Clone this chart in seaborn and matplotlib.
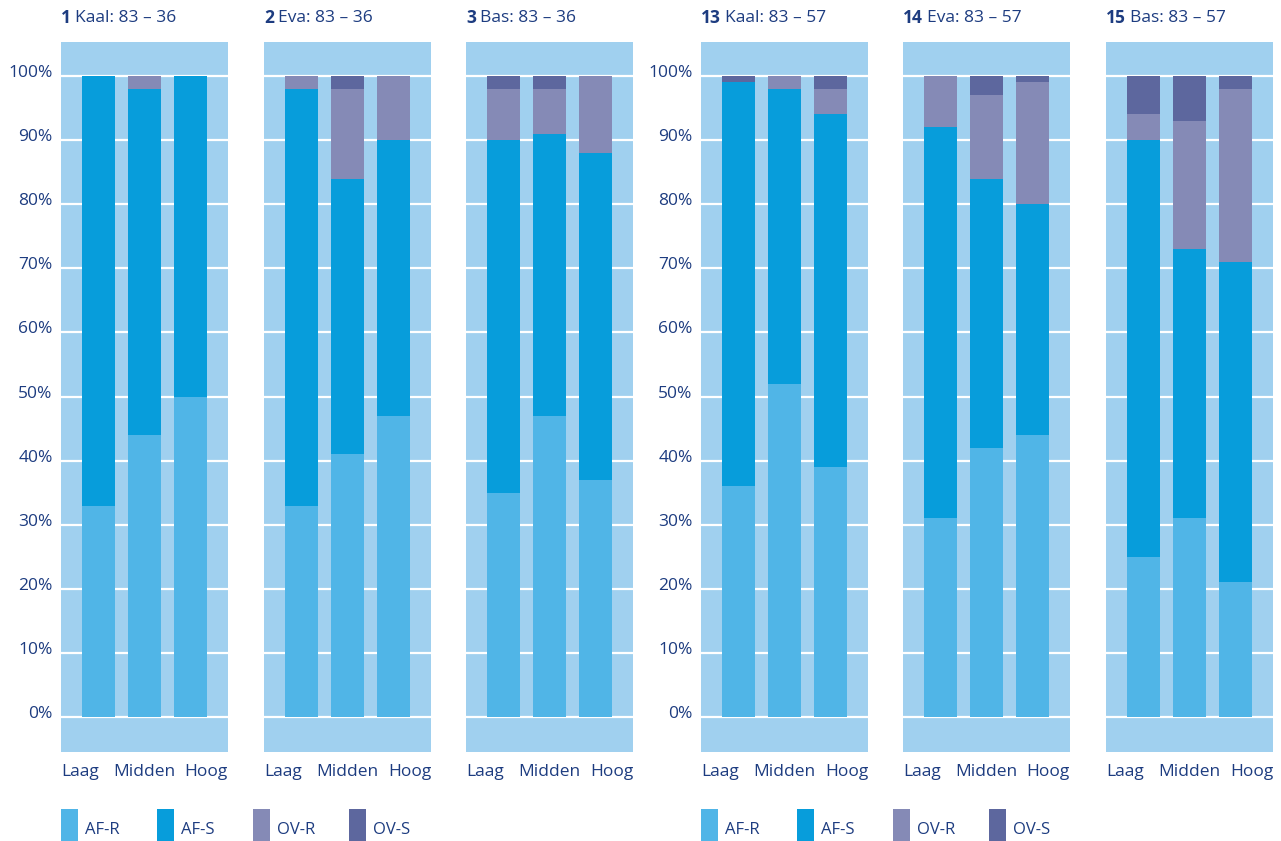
import numpy as np
import pandas as pd
import matplotlib
matplotlib.use("Agg")
import matplotlib.pyplot as plt
import matplotlib.transforms as mtransforms
import seaborn as sns
from matplotlib.patches import Rectangle

levels = ["Laag", "Midden", "Hoog"]
panel_num = ["1", "2", "3", "13", "14", "15"]
panel_text = ["Kaal: 83 – 36", "Eva: 83 – 36", "Bas: 83 – 36",
              "Kaal: 83 – 57", "Eva: 83 – 57", "Bas: 83 – 57"]
series = ["AF-R", "AF-S", "OV-R", "OV-S"]

# per panel: Laag, Midden, Hoog
af_r = [33, 44, 50, 33, 41, 47, 35, 47, 37, 36, 52, 39, 31, 42, 44, 25, 31, 21]
af_s = [67, 54, 50, 65, 43, 43, 55, 44, 51, 63, 46, 55, 61, 42, 36, 65, 42, 50]
ov_r = [0, 2, 0, 2, 14, 10, 8, 7, 12, 0, 2, 4, 8, 13, 19, 4, 20, 27]
ov_s = [0, 0, 0, 0, 2, 0, 2, 2, 0, 1, 0, 2, 0, 3, 1, 6, 7, 2]

yticks = [0, 10, 20, 30, 40, 50, 60, 70, 80, 90, 100]

colors = {"AF-R": "#50b5e7", "AF-S": "#079ddb", "OV-R": "#858ab6", "OV-S": "#5d679e"}
bg = "#a0d0ef"
txt = "#1d3c80"

rows = []
for p in range(6):
    for i, lv in enumerate(levels):
        k = p * 3 + i
        vals = [af_r[k], af_s[k], ov_r[k], ov_s[k]]
        cum = np.cumsum(vals)
        for s, v, c in zip(series, vals, cum):
            rows.append({"panel": p, "level": lv, "series": s, "value": v, "cum": c})
df = pd.DataFrame(rows)

sns.set_style("white", {"axes.facecolor": bg, "grid.color": "white"})
plt.rcParams["font.family"] = ["Open Sans", "DejaVu Sans"]

W, H = 1281, 841
fig = plt.figure(figsize=(W / 100, H / 100), dpi=100)

lefts = [61, 264, 466, 701, 903, 1106]
pw = 167
top, bot = 42, 752

raise_lbl = mtransforms.ScaledTranslation(0, 5 / 100, fig.dpi_scale_trans)

for p in range(6):
    ax = fig.add_axes([lefts[p] / W, (H - bot) / H, pw / W, (bot - top) / H])
    sub = df[df.panel == p]
    for s in reversed(series):
        sns.barplot(data=sub[sub.series == s], x="level", y="cum", order=levels,
                    color=colors[s], saturation=1, width=0.72, linewidth=0,
                    errorbar=None, ax=ax, zorder=2)
    ax.set_xlim(-0.815, 2.815)
    ax.set_ylim(-5.45, 105.3)
    ax.set_yticks(yticks)
    ax.yaxis.grid(True, color="white", linewidth=1.6, zorder=0)
    ax.set_axisbelow(True)
    ax.set_xlabel("")
    ax.set_ylabel("")
    for sp in ax.spines.values():
        sp.set_visible(False)
    ax.tick_params(length=0)
    if p in (0, 3):
        ax.set_yticklabels([f"{t}%" for t in yticks], fontsize=12.5, color=txt)
        ax.tick_params(axis="y", pad=6)
        for lab in ax.get_yticklabels():
            lab.set_transform(lab.get_transform() + raise_lbl)
    else:
        ax.set_yticklabels([])
    ax.set_xticks([-0.815, 1, 2.815])
    ax.set_xticklabels(levels, fontsize=12.5, color=txt)
    for lab, h in zip(ax.get_xticklabels(), ["left", "center", "right"]):
        lab.set_ha(h)
    ax.tick_params(axis="x", pad=9)

# titles with bold panel number
fig.canvas.draw()
r = fig.canvas.get_renderer()
for p in range(6):
    x0 = lefts[p] / W
    y0 = 1 - 18 / H
    t = fig.text(x0, y0, panel_num[p], fontsize=12.5, fontweight="bold",
                 color=txt, va="center", ha="left")
    bb = t.get_window_extent(renderer=r)
    fig.text(bb.x1 / W + 4 / W, y0, panel_text[p], fontsize=12.5, color=txt,
             va="center", ha="left")

# legends below each group
for lx in (lefts[0], lefts[3]):
    for i, s in enumerate(series):
        x = lx + i * 96
        fig.add_artist(Rectangle((x / W, 0), 17 / W, 32 / H, facecolor=colors[s],
                                 edgecolor="none", transform=fig.transFigure))
        fig.text((x + 24) / W, 1 - 830 / H, s, fontsize=12, color=txt,
                 va="center", ha="left")

fig.savefig("out.png", dpi=100)
